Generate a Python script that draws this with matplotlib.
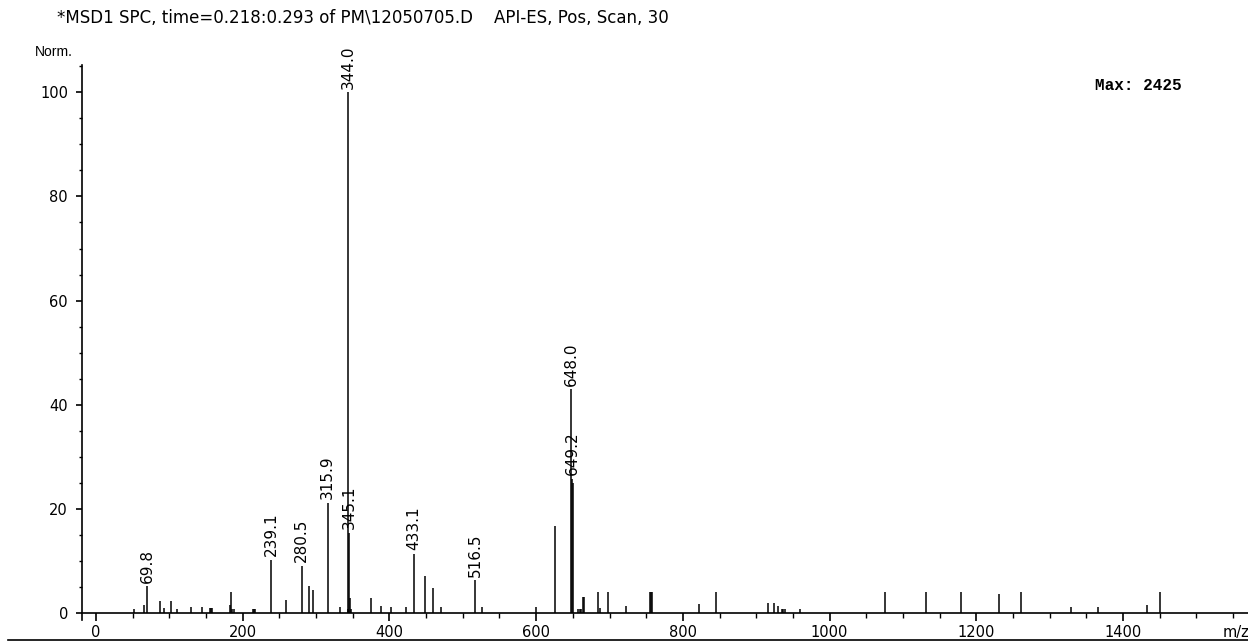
import matplotlib
matplotlib.use("Agg")
import matplotlib.pyplot as plt
from matplotlib.lines import Line2D
from matplotlib.ticker import MultipleLocator

# spectre de masse (m/z, intensité normalisée)
mz = [52, 65.5, 69.8, 87, 92, 102, 111, 129, 145, 155, 156.5, 158,
      182.5, 184.5, 186, 187.5, 214, 215.5, 217, 239.1, 258.5, 280.5,
      290.5, 296, 315.9, 332.5, 343, 344.0, 345.1, 346.1, 347.2, 375,
      388, 401.5, 422.5, 433.1, 449, 459.5, 470, 516.5, 525.5, 600,
      625.5, 648.0, 649.2, 650.2, 657.5, 659.5, 661.5, 663.2, 665.2,
      684.5, 686.5, 697.5, 722, 755.5, 756.8, 758.2, 822, 845, 916.5,
      924.5, 930, 934.5, 936.5, 938.5, 959.5, 1075.5, 1131.5, 1178.5,
      1231.5, 1260.5, 1329, 1366, 1432, 1450]
intensite = [0.8, 1.7, 5.2, 2.3, 1.1, 2.3, 0.8, 1.3, 1.3, 1.1, 1.1, 1.1,
             1.7, 4.1, 0.8, 0.8, 0.8, 0.8, 0.8, 10.3, 2.6, 9.2,
             5.2, 4.5, 21.2, 1.2, 0.8, 100, 15.5, 3.0, 0.8, 3.0,
             1.5, 1.2, 1.3, 11.5, 7.1, 4.9, 1.3, 6.4, 1.3, 1.3,
             16.8, 43.0, 25.8, 25.0, 0.9, 0.9, 0.9, 3.1, 3.1,
             4.2, 1.0, 4.2, 1.4, 4.2, 4.2, 4.2, 1.8, 4.2, 2.0,
             2.0, 1.4, 0.9, 0.9, 0.9, 0.9, 4.2, 4.2, 4.2,
             3.8, 4.2, 1.2, 1.2, 1.6, 4.2]

# pics annotés
pics_mz = [69.8, 239.1, 280.5, 315.9, 344.0, 345.1, 433.1, 516.5, 648.0, 649.2]
pics_h = [5.2, 10.3, 9.2, 21.2, 100, 15.5, 11.5, 6.4, 43.0, 25.8]
pics_txt = ["69.8", "239.1", "280.5", "315.9", "344.0", "345.1", "433.1",
            "516.5", "648.0", "649.2"]

titre = "*MSD1 SPC, time=0.218:0.293 of PM\\12050705.D    API-ES, Pos, Scan, 30"

plt.rcParams['font.family'] = ['DejaVu Sans']

fig = plt.figure(figsize=(12.48, 6.41), dpi=100)
ax = fig.add_axes([82 / 1248, 21 / 641, 1 - 82 / 1248, (620 - 65) / 641])

ax.vlines(mz, 0, intensite, color='black', lw=1.1)
for x, h, t in zip(pics_mz, pics_h, pics_txt):
    ax.annotate(t, (x, h), xytext=(0, 2.5), textcoords='offset points',
                rotation=90, ha='center', va='bottom', fontsize=11)

ax.set_xlim(-19.1, 1570.3)
ax.set_ylim(-1.25, 105.2)

ax.spines['top'].set_visible(False)
ax.spines['right'].set_visible(False)
ax.spines['bottom'].set_position(('data', 0))
ax.spines['left'].set_linewidth(1.2)
ax.spines['bottom'].set_linewidth(1.2)

ax.xaxis.set_major_locator(MultipleLocator(200))
ax.xaxis.set_minor_locator(MultipleLocator(50))
ax.yaxis.set_major_locator(MultipleLocator(20))
ax.yaxis.set_minor_locator(MultipleLocator(5))
ax.tick_params(axis='x', which='major', length=6, width=1.2, pad=2, labelsize=10.5)
ax.tick_params(axis='x', which='minor', length=3.5, width=1.0)
ax.tick_params(axis='y', which='major', length=4, width=1.2, pad=6, labelsize=10.5)
ax.tick_params(axis='y', which='minor', length=2, width=1.0)

fig.text(57 / 1248, 1 - 18 / 641, titre, fontsize=12, ha='left', va='center')
fig.text(73 / 1248, 1 - 52 / 641, "Norm.", fontsize=10,
         family='Liberation Sans', ha='right', va='center')
fig.text(1223 / 1248, 1 - 632 / 641, "m/z", fontsize=10.5, ha='left', va='center')
fig.text(1095 / 1248, 1 - 85 / 641, "Max: 2425", fontsize=11.5,
         family='Liberation Mono', weight='bold', ha='left', va='center')

fig.add_artist(Line2D([8 / 1248, 1], [1.5 / 641, 1.5 / 641], color='black', lw=1.2))

plt.savefig('out.png', dpi=100)
